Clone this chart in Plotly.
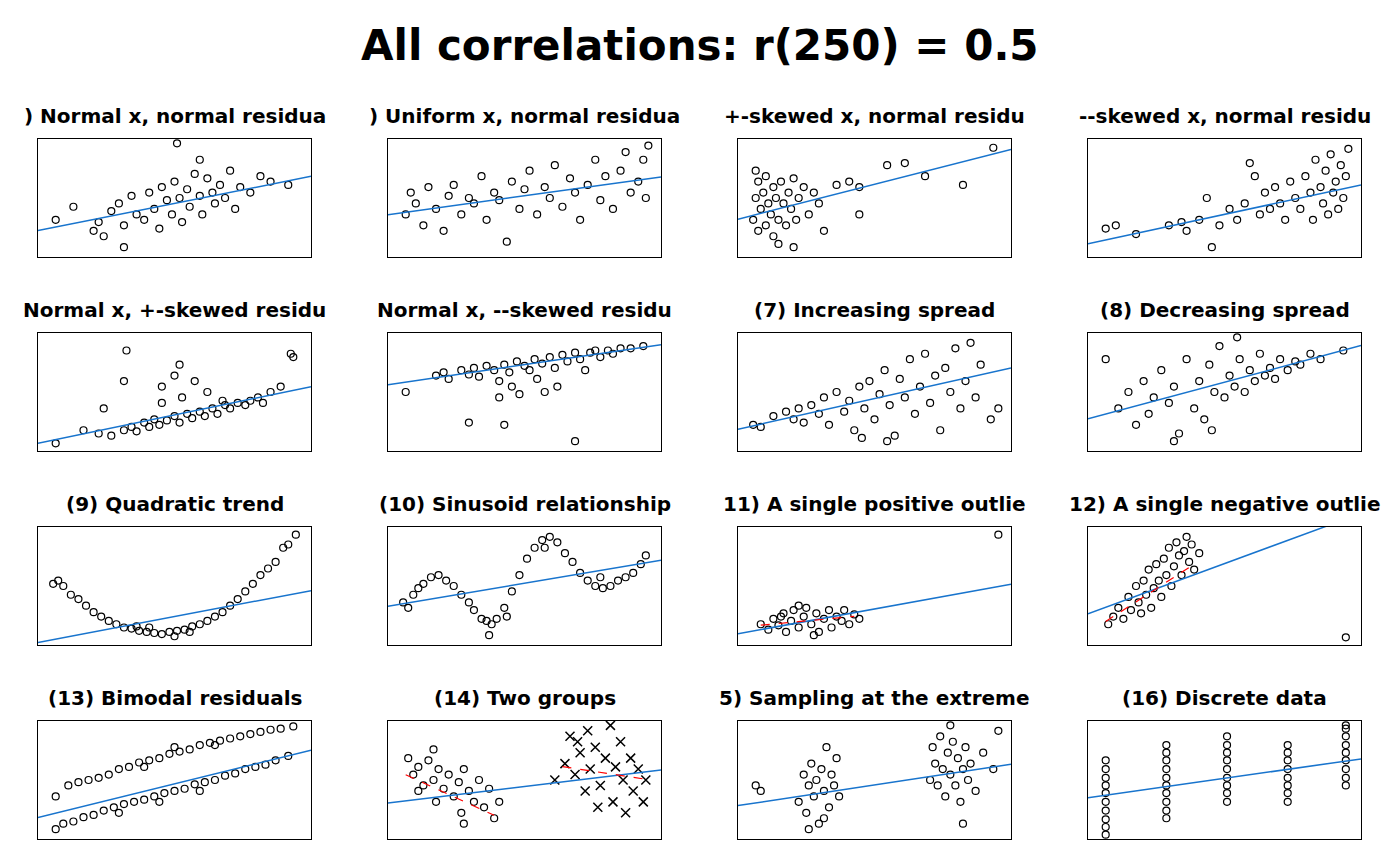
import plotly.graph_objects as go

titles = [") Normal x, normal residua", ") Uniform x, normal residua", "+-skewed x, normal residu", "--skewed x, normal residu",
          "Normal x, +-skewed residu", "Normal x, --skewed residu", "(7) Increasing spread", "(8) Decreasing spread",
          "(9) Quadratic trend", "(10) Sinusoid relationship", "11) A single positive outlie", "12) A single negative outlie",
          "(13) Bimodal residuals", "(14) Two groups", "5) Sampling at the extreme", "(16) Discrete data"]

P1 = [(3,30),(10,42),(18,20),(22,15),(25,38),(28,45),(30,25),(33,52),(35,35),(38,30),(40,55),(42,40),(44,22),(45,60),(47,48),(49,35),(50,65),(52,50),(53,28),(55,58),(56,42),(58,72),(60,52),(61,35),(63,68),(65,55),(66,45),(68,62),(70,50),(72,75),(74,40),(76,60),(80,55),(84,70),(88,65),(95,62),(51,100),(60,85),(30,5),(20,28)]
P2 = [(3,35),(5,55),(7,45),(10,25),(12,60),(15,40),(18,20),(20,52),(22,62),(25,35),(28,50),(30,45),(33,70),(35,30),(38,55),(40,48),(43,10),(45,65),(48,40),(50,58),(52,75),(55,35),(58,60),(60,50),(62,80),(65,42),(68,68),(70,55),(72,30),(75,62),(78,85),(80,48),(82,70),(85,40),(88,75),(90,92),(92,55),(95,65),(97,85),(98,50),(99,98)]
P3 = [(2,30),(3,50),(4,20),(4,65),(5,40),(6,55),(7,25),(7,70),(8,45),(9,35),(10,60),(10,15),(11,50),(12,30),(13,65),(14,45),(15,25),(16,55),(17,40),(18,68),(19,30),(20,50),(22,60),(24,35),(26,55),(28,45),(30,20),(35,62),(40,65),(44,60),(44,35),(55,80),(62,82),(70,70),(85,62),(97,96),(3,75),(12,8),(18,5)]
P4 = [(3,22),(7,25),(15,17),(28,25),(35,20),(40,30),(43,50),(48,25),(52,40),(55,30),(58,45),(60,82),(62,70),(64,35),(66,55),(68,40),(70,60),(72,45),(74,30),(76,65),(78,50),(80,40),(82,70),(84,55),(85,30),(86,85),(88,60),(89,45),(90,75),(91,35),(92,90),(93,55),(94,65),(95,40),(96,80),(97,50),(98,70),(99,95),(45,5),(33,28)]
P5 = [(3,3),(14,15),(20,12),(25,10),(30,15),(33,18),(35,14),(38,22),(40,18),(42,25),(44,20),(45,40),(47,24),(50,28),(52,22),(53,45),(55,30),(57,26),(58,60),(60,32),(62,28),(63,50),(65,35),(67,30),(69,42),(70,38),(72,35),(75,40),(78,38),(80,42),(83,45),(85,40),(88,50),(92,55),(96,85),(97,82),(31,88),(45,55),(30,60),(50,65),(52,75),(22,35)]
P6 = [(3,50),(15,65),(18,68),(20,62),(25,70),(28,66),(30,72),(32,64),(35,74),(38,70),(40,60),(42,75),(44,68),(45,55),(47,78),(48,48),(50,74),(52,70),(54,80),(55,62),(57,76),(60,82),(62,72),(63,55),(65,84),(67,78),(70,86),(72,80),(74,70),(76,86),(78,88),(80,82),(83,88),(85,85),(88,90),(92,90),(97,92),(28,22),(42,20),(70,5),(40,45),(58,50)]
P7 = [(2,20),(5,18),(10,28),(15,32),(18,25),(20,35),(22,22),(25,38),(28,30),(30,45),(32,20),(35,50),(38,32),(40,42),(42,15),(44,55),(46,35),(48,60),(50,25),(52,48),(54,70),(56,38),(58,10),(60,62),(62,45),(64,80),(66,30),(68,55),(70,85),(72,40),(74,65),(76,15),(78,72),(80,50),(82,90),(84,35),(86,60),(88,95),(90,45),(92,75),(96,25),(99,35),(45,8),(55,5)]
P8 = [(3,80),(8,35),(12,50),(15,20),(18,60),(20,30),(22,45),(25,70),(28,40),(30,55),(32,12),(35,80),(38,35),(40,60),(42,25),(44,75),(46,50),(48,92),(50,45),(52,65),(54,55),(56,80),(58,50),(60,70),(62,60),(64,85),(66,65),(68,72),(70,62),(72,80),(75,70),(78,78),(80,75),(84,85),(88,80),(97,88),(30,5),(45,15),(55,100)]
P9 = [(2,52),(4,55),(6,50),(9,42),(12,38),(15,32),(18,26),(21,22),(24,18),(27,15),(30,12),(33,11),(36,9),(39,8),(42,7),(45,6),(48,8),(51,9),(54,10),(57,13),(60,15),(63,18),(66,22),(69,26),(72,32),(75,38),(78,45),(81,52),(84,60),(87,66),(90,72),(93,85),(95,88),(98,97),(40,12),(50,4),(56,8),(35,13)]
P10 = [(2,35),(4,30),(6,42),(8,48),(10,52),(13,58),(16,60),(19,55),(22,50),(25,42),(28,35),(30,28),(33,20),(35,18),(37,15),(39,20),(42,30),(45,45),(48,60),(51,75),(54,85),(57,92),(60,95),(63,90),(66,80),(69,72),(72,62),(75,55),(78,50),(81,48),(84,50),(87,55),(90,58),(93,62),(96,70),(98,78),(36,5),(58,85),(80,58),(43,22)]
P11 = [(5,15),(8,10),(10,20),(12,14),(14,25),(15,8),(17,18),(18,28),(20,12),(22,22),(23,30),(25,15),(27,25),(28,8),(30,20),(32,28),(33,12),(35,22),(37,18),(38,28),(40,15),(42,24),(44,20),(20,32),(26,5),(13,22),(99,97)]
P12 = [(4,15),(6,22),(8,30),(10,20),(12,40),(13,28),(15,50),(16,35),(18,55),(19,42),(20,65),(22,48),(23,70),(24,55),(25,40),(26,75),(27,60),(28,85),(29,50),(30,68),(31,90),(32,78),(33,60),(34,82),(35,95),(36,72),(37,88),(38,65),(40,80),(17,25),(21,30),(98,3)]
P13 = [(3,35),(8,45),(12,48),(16,50),(20,52),(24,55),(28,60),(32,62),(36,66),(40,68),(44,70),(48,74),(52,76),(56,78),(60,82),(64,84),(68,86),(72,88),(76,90),(80,92),(84,94),(88,96),(92,97),(97,99),(38,62),(50,80),(66,82),
       (3,5),(6,10),(10,12),(14,16),(18,18),(22,22),(26,25),(30,28),(34,30),(38,32),(42,35),(46,38),(50,40),(54,42),(58,46),(62,48),(66,50),(70,54),(74,56),(78,60),(82,62),(86,64),(90,68),(95,72),(28,20),(44,30),(60,40)]
P14 = [(4,70),(6,55),(8,62),(10,45),(12,68),(14,50),(15,30),(16,60),(18,42),(20,55),(22,35),(24,48),(25,20),(26,60),(28,40),(30,30),(32,50),(34,25),(36,42),(38,15),(26,10),(14,78),(40,30),(8,40)]
P14_cross = [(62,50),(66,65),(68,90),(70,55),(72,75),(74,40),(75,95),(76,60),(78,80),(80,45),(82,70),(84,100),(85,30),(86,62),(88,85),(89,50),(90,20),(92,70),(93,40),(95,60),(97,30),(98,50),(79,25),(71,85)]
P15 = [(3,45),(5,40),(20,30),(22,55),(23,20),(24,45),(25,65),(26,35),(27,50),(28,10),(29,60),(30,40),(31,80),(32,25),(33,55),(34,45),(35,70),(24,5),(30,15),(36,35),
       (72,50),(73,80),(74,65),(75,45),(76,90),(77,60),(78,35),(79,75),(80,55),(81,85),(82,45),(83,70),(84,30),(85,60),(86,80),(87,50),(88,65),(90,40),(93,75),(97,60),(99,95),(85,10),(80,100)]
P16 = [(3,0),(3,7),(3,14),(3,22),(3,30),(3,38),(3,45),(3,52),(3,60),(3,68),
       (27,15),(27,22),(27,30),(27,38),(27,45),(27,52),(27,60),(27,68),(27,75),(27,82),
       (51,30),(51,38),(51,45),(51,52),(51,60),(51,68),(51,75),(51,82),(51,90),
       (75,30),(75,38),(75,45),(75,52),(75,60),(75,68),(75,75),(75,82),
       (98,45),(98,52),(98,60),(98,68),(98,75),(98,82),(98,90),(98,97),(98,100)]
panels = [P1, P2, P3, P4, P5, P6, P7, P8, P9, P10, P11, P12, P13, P14, P15, P16]

# overall fit lines: intercept, slope
intercepts = [22, 36, 33, 10, 5, 58, 18, 28, 0, 33, 8, 28, 18, 30, 28, 35]
slopes = [0.46, 0.32, 0.59, 0.50, 0.48, 0.34, 0.52, 0.62, 0.44, 0.39, 0.42, 0.85, 0.57, 0.28, 0.35, 0.33]
# dashed sub-fits: panel index, x0, x1, intercept, slope
subfits = [(10, 5, 42, 13, 0.22), (11, 3, 38, 13, 1.5), (13, 3, 38, 58, -1.06), (13, 65, 100, 85, -0.35)]

XR = [-4, 104]
fig = go.Figure()
# page body adds ~8px offset, so pixel positions are shifted back by 8
OFF = 8
xdom = [(38, 311), (388, 661), (738, 1011), (1088, 1361)]
ydom = [(139, 257), (333, 451), (527, 645), (721, 839)]
W, H = 1400, 866

for i, pts in enumerate(panels):
    r, c = divmod(i, 4)
    n = i + 1
    xa, ya = ("x", "y") if n == 1 else (f"x{n}", f"y{n}")
    fig.add_trace(go.Scatter(x=[p[0] for p in pts], y=[p[1] for p in pts], mode="markers",
                             marker=dict(symbol="circle-open", size=7, color="black", line=dict(width=1.2)),
                             xaxis=xa, yaxis=ya, showlegend=False))
    if n == 14:
        fig.add_trace(go.Scatter(x=[p[0] for p in P14_cross], y=[p[1] for p in P14_cross], mode="markers",
                                 marker=dict(symbol="x-thin-open", size=9, color="black", line=dict(width=1.5)),
                                 xaxis=xa, yaxis=ya, showlegend=False))
    fig.add_trace(go.Scatter(x=XR, y=[intercepts[i] + slopes[i] * v for v in XR], mode="lines",
                             line=dict(color="#1874CD", width=1.5), xaxis=xa, yaxis=ya, showlegend=False))
    for (pi, x0, x1, b, m) in subfits:
        if pi == i:
            fig.add_trace(go.Scatter(x=[x0, x1], y=[b + m * x0, b + m * x1], mode="lines",
                                     line=dict(color="red", width=1.2, dash="dash"),
                                     xaxis=xa, yaxis=ya, showlegend=False))
    ax = dict(showticklabels=False, ticks="", showgrid=False, zeroline=False, showline=True,
              linecolor="black", linewidth=1, mirror=True, fixedrange=True)
    x0p, x1p = xdom[c][0] - OFF, xdom[c][1] - OFF
    y0p, y1p = ydom[r][0] - OFF, ydom[r][1] - OFF
    fig.layout[f"xaxis{'' if n == 1 else n}"] = dict(ax, range=XR, anchor=ya, domain=[x0p / W, x1p / W])
    fig.layout[f"yaxis{'' if n == 1 else n}"] = dict(ax, range=XR, anchor=xa, domain=[1 - y1p / H, 1 - y0p / H])
    fig.add_annotation(text=f"<b>{titles[i]}</b>", x=(x0p + x1p) / 2 / W, y=1 - (y0p - 23) / H,
                       xref="paper", yref="paper", showarrow=False, font=dict(size=20, color="black"),
                       xanchor="center", yanchor="middle")

fig.add_annotation(text="<b>All correlations: r(250) = 0.5</b>", x=(700 - OFF) / W, y=1 - (45 - OFF) / H,
                   xref="paper", yref="paper", showarrow=False, xanchor="center", yanchor="middle",
                   font=dict(size=42, color="black"))
fig.update_layout(width=W, height=H, margin=dict(l=0, r=0, t=0, b=0), plot_bgcolor="white",
                  paper_bgcolor="white", font=dict(family="DejaVu Sans"))
fig.write_html("out.html")
